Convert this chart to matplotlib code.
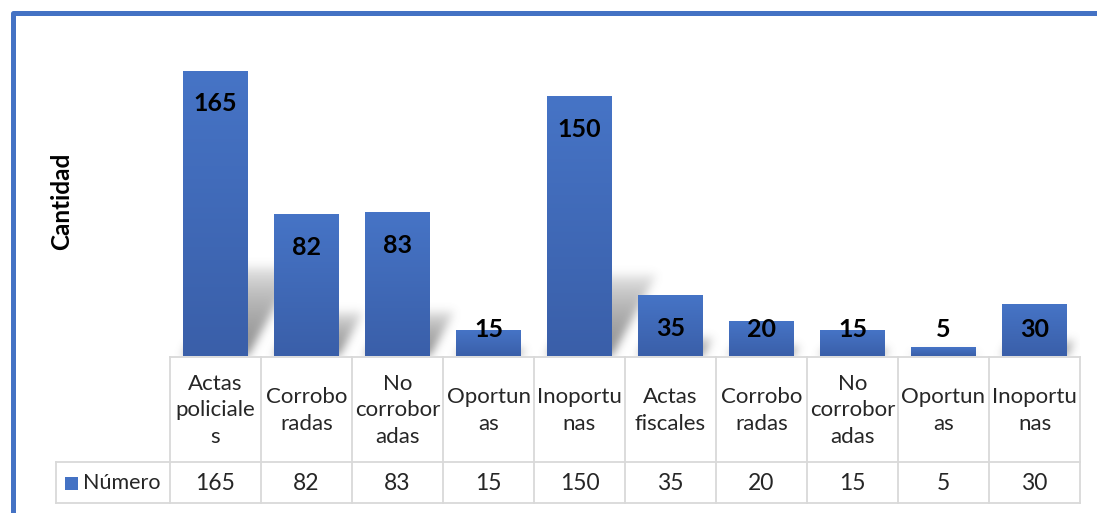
import numpy as np
import matplotlib
matplotlib.use("Agg")
import matplotlib.pyplot as plt
from matplotlib.colors import LinearSegmentedColormap
from matplotlib.patches import Rectangle
from matplotlib.transforms import blended_transform_factory

# data
categories = ["Actas\npoliciale\ns", "Corrobo\nradas", "No\ncorrobor\nadas", "Oportun\nas",
              "Inoportu\nnas", "Actas\nfiscales", "Corrobo\nradas", "No\ncorrobor\nadas",
              "Oportun\nas", "Inoportu\nnas"]
values = [165, 82, 83, 15, 150, 35, 20, 15, 5, 30]
series_name = "Número"
ylabel = "Cantidad"

W, H = 1097, 513
fig = plt.figure(figsize=(W / 100, H / 100), dpi=100)
plt.rcParams['font.family'] = ['Lato', 'DejaVu Sans']

def fx(px):
    return px / W

def fy(py):
    return 1 - py / H

blue = "#4472C4"
txt = "#262626"
grid = "#D9D9D9"

# plot area lines up with the table columns
x_left, x_right = 170, 1080
base, top = 356, 30
px_per_unit = 285.5 / 165
ax = fig.add_axes([fx(x_left), fy(base), fx(x_right - x_left), (base - top) / H])
n = len(values)
ymax = (base - top) / px_per_unit
ax.set_xlim(-0.5, n - 0.5)
ax.set_ylim(0, ymax)
ax.axis("off")

bw = 0.714
cmap = LinearSegmentedColormap.from_list("bar", ["#3A5FA9", "#4674C6"])
grad = np.linspace(1, 0, 100).reshape(-1, 1)
col_px = (x_right - x_left) / n

# soft perspective shadow behind the bars (drawn on a pixel grid, then blurred)
gw, gh = x_right - x_left, base - top
gx = np.arange(gw) + 0.5
gy = np.arange(gh) + 0.5  # height above baseline in px
GX, GY = np.meshgrid(gx, gy)
shade = np.zeros((gh, gw))
for i, v in enumerate(values):
    x0 = (i + 0.5 - bw / 2) * col_px
    x1 = (i + 0.5 + bw / 2) * col_px
    hs = max(v * px_per_unit * 0.32, 1)
    m = (GY <= hs) & (GX >= x0 + 0.55 * GY) & (GX <= x1 + 0.55 * GY)
    fade = np.clip(1 - GY / hs, 0, 1) ** 0.5
    shade = np.maximum(shade, m * fade)
k = np.exp(-0.5 * (np.arange(-15, 16) / 4.5) ** 2)
k /= k.sum()
pad = np.pad(shade, 15)
pad = np.apply_along_axis(lambda r: np.convolve(r, k, mode="same"), 1, pad)
pad = np.apply_along_axis(lambda c: np.convolve(c, k, mode="same"), 0, pad)
shade = pad[15:-15, 15:-15]
rgba = np.zeros((gh, gw, 4))
rgba[..., :3] = 0.4
rgba[..., 3] = np.clip(shade * 0.75, 0, 1)
ax.imshow(rgba[::-1], extent=[-0.5, n - 0.5, 0, ymax], aspect="auto", zorder=1,
          interpolation="bilinear")

for i, v in enumerate(values):
    x0 = i - bw / 2
    im = ax.imshow(grad, extent=[x0, x0 + bw, 0, v], aspect="auto", cmap=cmap, zorder=2)
    im.set_clip_path(Rectangle((x0, 0), bw, v, transform=ax.transData))
    ly = max(v - 19.1, 15.6)
    ax.text(i, ly, str(v), ha="center", va="center", fontsize=18, fontweight="bold",
            color="black", zorder=3)
ax.set_xlim(-0.5, n - 0.5)
ax.set_ylim(0, ymax)

# data table below the plot
tr = blended_transform_factory(ax.transData, fig.transFigure)
row_top, row_mid, row_bot = 357, 462, 503
lw = 1.3
for b in np.arange(n + 1) - 0.5:
    ax.plot([b, b], [fy(row_top), fy(row_bot)], color=grid, lw=lw, transform=tr, clip_on=False)
ax.plot([-0.5, n - 0.5], [fy(row_top)] * 2, color=grid, lw=lw, transform=tr, clip_on=False)
fig.add_artist(plt.Line2D([fx(56), fx(x_right)], [fy(row_mid)] * 2, color=grid, lw=lw))
fig.add_artist(plt.Line2D([fx(56), fx(x_right)], [fy(row_bot)] * 2, color=grid, lw=lw))
fig.add_artist(plt.Line2D([fx(56), fx(56)], [fy(row_mid), fy(row_bot)], color=grid, lw=lw))

for i, (c, v) in enumerate(zip(categories, values)):
    ax.text(i, fy((row_top + row_mid) / 2 + 1), c, ha="center", va="center", fontsize=16,
            color=txt, linespacing=1.38, transform=tr)
    ax.text(i, fy((row_mid + row_bot) / 2 + 1), str(v), ha="center", va="center",
            fontsize=16.5, color=txt, transform=tr)

fig.add_artist(Rectangle((fx(65), fy(490)), fx(13), 13 / H, facecolor=blue, edgecolor="none"))
fig.text(fx(83), fy(483), series_name, ha="left", va="center", fontsize=15.5, color=txt)

fig.text(fx(62), fy(201), ylabel, rotation=90, ha="center", va="center", fontsize=17.5,
         fontweight="bold", color="black")

# blue frame on top and left
fig.add_artist(plt.Line2D([fx(12.5), fx(12.5), 1.0], [0.0, fy(12.5), fy(12.5)], color=blue,
                          lw=3.6, solid_joinstyle="round"))

fig.savefig("out.png", dpi=100)
